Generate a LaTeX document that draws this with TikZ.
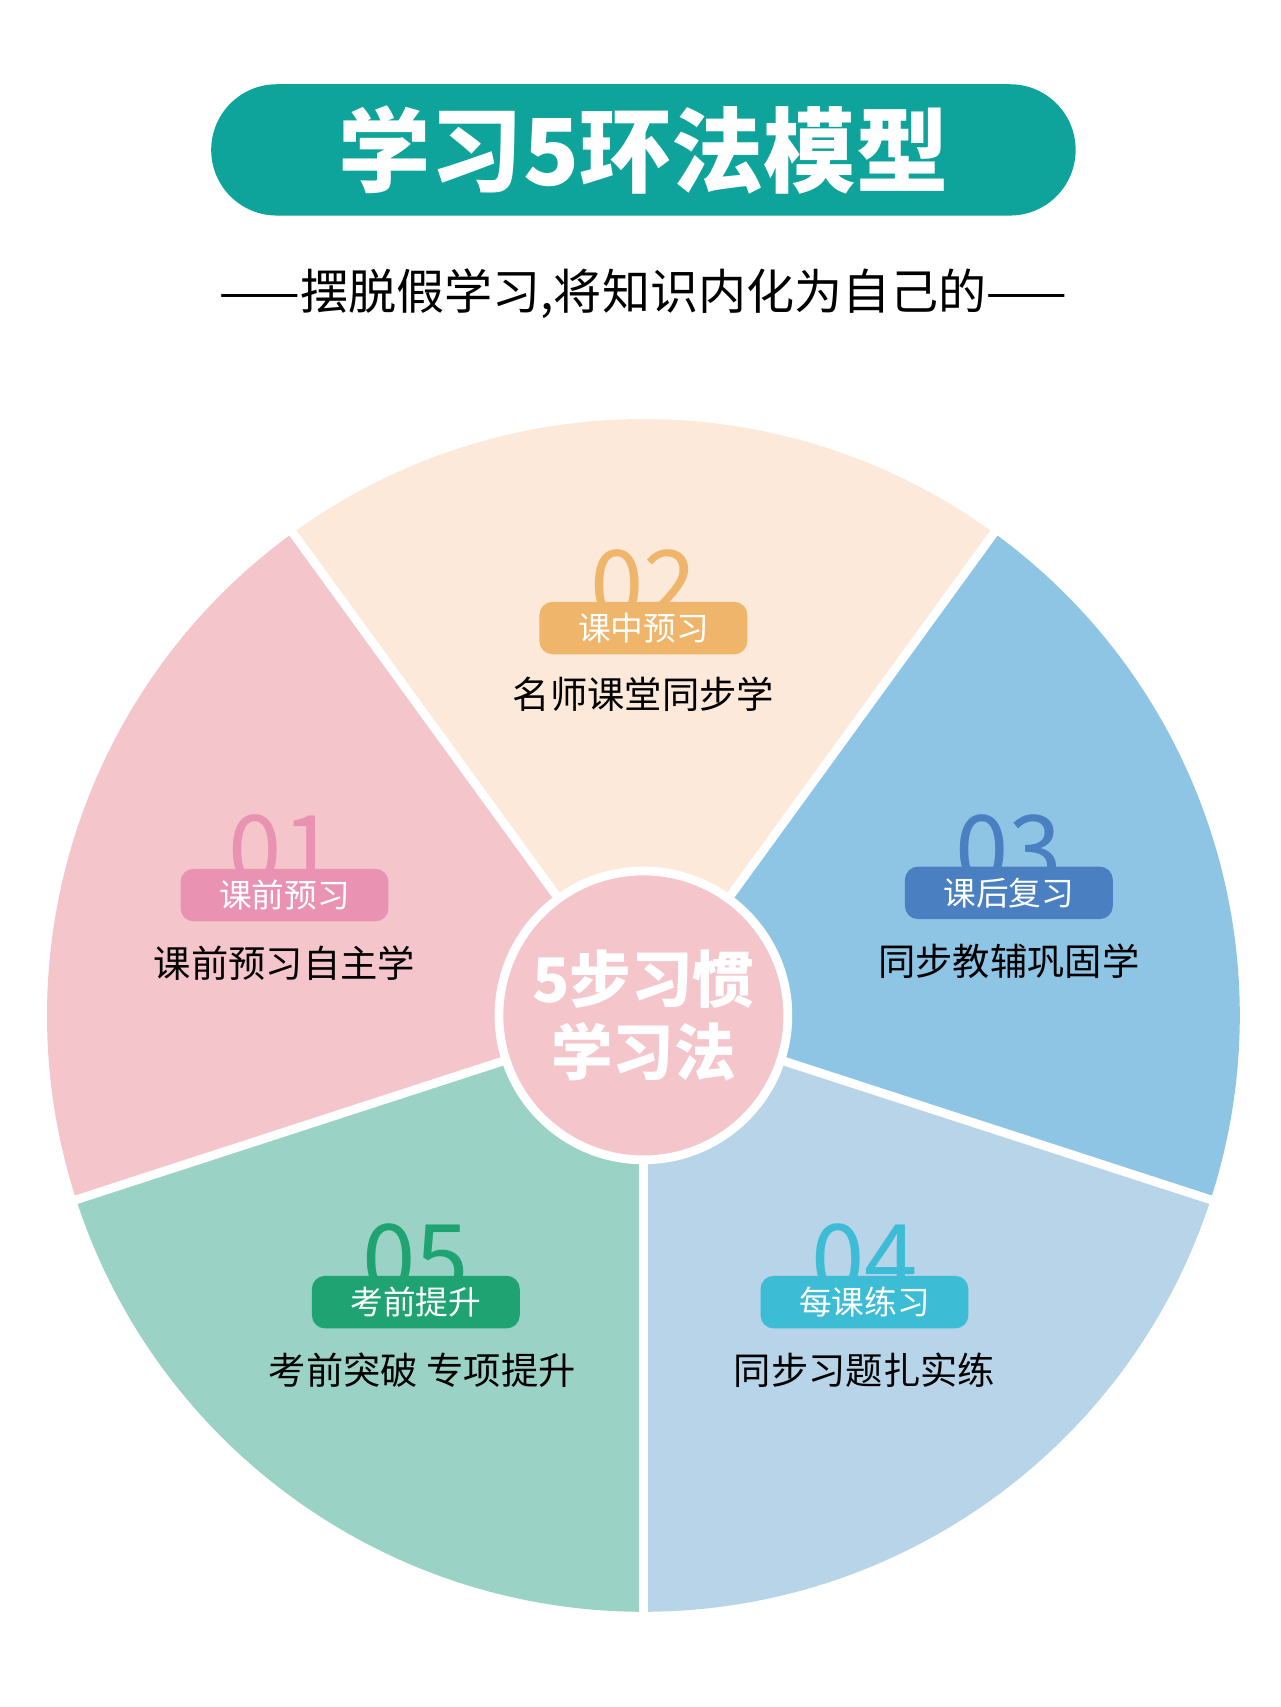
\documentclass[tikz,border=0pt]{standalone}
\usepackage{fontspec}
\setmainfont{Noto Sans CJK SC}
\setsansfont{Noto Sans CJK SC}
\definecolor{teal}{HTML}{0EA39B}
\definecolor{cpeach}{HTML}{FCE9DA}
\definecolor{cblue}{HTML}{8EC5E4}
\definecolor{clblue}{HTML}{B7D4E8}
\definecolor{cgreen}{HTML}{9AD3C5}
\definecolor{cpink}{HTML}{F4C5CB}
\definecolor{bpink}{HTML}{E992B2}
\definecolor{borange}{HTML}{EFB56A}
\definecolor{bblue}{HTML}{4A7FC1}
\definecolor{bgreen}{HTML}{1FA372}
\definecolor{bcyan}{HTML}{3DBCD6}
\tikzset{
  badge/.style={fill=#1, rounded corners=1.2mm, minimum width=19mm, minimum height=4.8mm, inner sep=0pt, text=white, font=\fontsize{8.5}{9}\selectfont},
  numtxt/.style={text=#1, anchor=base, inner sep=0pt, font=\fontsize{25}{25}\selectfont},
  lbl/.style={text=black, font=\fontsize{9.7}{10}\selectfont},
  sep/.style={white, line width=0.8mm}
}
\begin{document}
\begin{tikzpicture}[x=0.1mm,y=0.1mm]
\useasboundingbox (0,0) rectangle (1170,1560);
\fill[white] (0,0) rectangle (1170,1560);
\coordinate (C) at (588,632);
% sectors
\fill[cpeach] (C) -- ++(54:545) arc (54:126:545) -- cycle;
\fill[cblue] (C) -- ++(-18:545) arc (-18:54:545) -- cycle;
\fill[clblue] (C) -- ++(-90:545) arc (-90:-18:545) -- cycle;
\fill[cgreen] (C) -- ++(-162:545) arc (-162:-90:545) -- cycle;
\fill[cpink] (C) -- ++(126:545) arc (126:198:545) -- cycle;
\foreach \a in {54,126,198,270,342} \draw[sep] (C) -- ++(\a:550);
\node[circle, fill=cpink, draw=white, line width=0.8mm, minimum size=264*0.1mm, inner sep=0pt] (ctr) at (C) {};
\node[text=white, align=center, font=\bfseries\fontsize{16}{20}\selectfont] (ctrt) at (C) {5步习惯\\[-1pt]学习法};
% title
\node[fill=teal, rounded corners=6mm, minimum width=79mm, minimum height=12mm, text=white, font=\bfseries\fontsize{24}{24}\selectfont] (title) at (588,1423) {学习5环法模型};
\node[font=\fontsize{12.5}{13}\selectfont] (sub) at (588,1292) {——摆脱假学习,将知识内化为自己的——};
% 02
\node[numtxt=borange] (n2) at (588,994) {02};
\node[badge=borange] (b2) at (588,986) {课中预习};
\node[lbl] (l2) at (588,926) {名师课堂同步学};
% 01
\node[numtxt=bpink] (n1) at (258,752) {01};
\node[badge=bpink] (b1) at (260,742) {课前预习};
\node[lbl] (l1) at (260,680) {课前预习自主学};
% 03
\node[numtxt=bblue] (n3) at (922,752) {03};
\node[badge=bblue] (b3) at (922,744) {课后复习};
\node[lbl] (l3) at (922,682) {同步教辅巩固学};
% 05
\node[numtxt=bgreen] (n5) at (380,378) {05};
\node[badge=bgreen] (b5) at (380,370) {考前提升};
\node[lbl] (l5) at (386,308) {考前突破 专项提升};
% 04
\node[numtxt=bcyan] (n4) at (790,378) {04};
\node[badge=bcyan] (b4) at (790,370) {每课练习};
\node[lbl] (l4) at (790,308) {同步习题扎实练};
\end{tikzpicture}
\end{document}
